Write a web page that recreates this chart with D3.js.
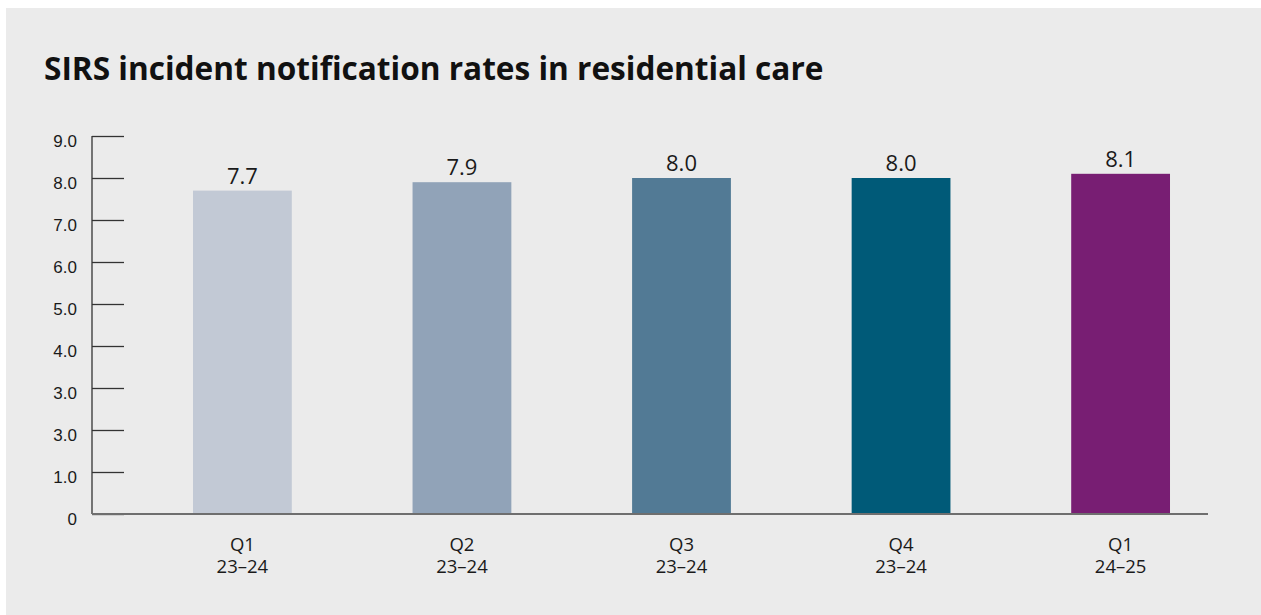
<!DOCTYPE html>
<html>
<head>
<meta charset="utf-8">
<script src="https://cdn.jsdelivr.net/npm/d3@7"></script>
<style>
  html, body { margin: 0; padding: 0; background: #fff; }
  svg { display: block; font-family: "Open Sans", "Noto Sans", sans-serif; }
</style>
</head>
<body>
<div id="chart"></div>
<script>
// chart data
const quarters = ["Q1", "Q2", "Q3", "Q4", "Q1"];
const years = ["23\u201324", "23\u201324", "23\u201324", "23\u201324", "24\u201325"];
const rates = [7.7, 7.9, 8.0, 8.0, 8.1];
const barColors = ["#c2c9d5", "#91a3b8", "#527a95", "#005a78", "#781e73"];
const tickValues = [0, 1, 2, 3, 4, 5, 6, 7, 8, 9];
// as printed in the source (the "2.0" tick reads "3.0")
const tickLabels = ["0", "1.0", "3.0", "3.0", "4.0", "5.0", "6.0", "7.0", "8.0", "9.0"];

const width = 1261, height = 615;
const margin = {top: 136, left: 92, bottom: 101, axisRight: 1208};

const svg = d3.select("#chart").append("svg")
    .attr("width", width)
    .attr("height", height);

svg.append("rect")
    .attr("x", 6)
    .attr("y", 8)
    .attr("width", width - 6)
    .attr("height", height - 8)
    .attr("fill", "#ebebeb");

svg.append("text")
    .attr("x", 44)
    .attr("y", 80)
    .attr("font-size", 31.6)
    .attr("font-weight", 700)
    .attr("fill", "#111")
    .text("SIRS incident notification rates in residential care");

const y = d3.scaleLinear()
    .domain([0, 9])
    .range([height - margin.bottom, margin.top]);

const keys = d3.range(rates.length);
const x = d3.scaleBand()
    .domain(keys)
    .range([margin.left, 1271])
    .paddingInner(0.55)
    .paddingOuter(0.46);

// y axis with inward ticks
const yAxis = svg.append("g")
    .attr("transform", `translate(${margin.left},0)`)
    .call(d3.axisRight(y)
        .tickValues(tickValues)
        .tickSize(32)
        .tickFormat((d, i) => tickLabels[i]));

yAxis.select(".domain").remove();
yAxis.selectAll(".tick line")
    .attr("stroke", "#333")
    .attr("stroke-width", 1.3);
yAxis.selectAll(".tick text")
    .attr("x", -15)
    .attr("dy", "0.9em")
    .attr("y", -5)
    .attr("text-anchor", "end")
    .attr("font-size", 17)
    .attr("fill", "#1a1a1a");

svg.append("line")
    .attr("x1", margin.left)
    .attr("x2", margin.left)
    .attr("y1", y(9))
    .attr("y2", y(0))
    .attr("stroke", "#333")
    .attr("stroke-width", 1.3);

// bars
svg.append("g")
    .selectAll("rect")
    .data(keys)
    .join("rect")
    .attr("x", d => x(d))
    .attr("y", d => y(rates[d]))
    .attr("width", x.bandwidth())
    .attr("height", d => y(0) - y(rates[d]))
    .attr("fill", d => barColors[d]);

svg.append("g")
    .selectAll("text")
    .data(keys)
    .join("text")
    .attr("x", d => x(d) + x.bandwidth() / 2)
    .attr("y", d => y(rates[d]) - 7)
    .attr("text-anchor", "middle")
    .attr("font-size", 22)
    .attr("fill", "#1a1a1a")
    .text(d => rates[d].toFixed(1));

// x axis
svg.append("line")
    .attr("x1", margin.left)
    .attr("x2", margin.axisRight)
    .attr("y1", y(0))
    .attr("y2", y(0))
    .attr("stroke", "#6e6e6e")
    .attr("stroke-width", 2);

const xLabels = svg.append("g")
    .selectAll("text")
    .data(keys)
    .join("text")
    .attr("text-anchor", "middle")
    .attr("font-size", 18.5)
    .attr("fill", "#1a1a1a")
    .attr("transform", d => `translate(${x(d) + x.bandwidth() / 2},0)`);

xLabels.append("tspan")
    .attr("x", 0)
    .attr("y", 551)
    .text(d => quarters[d]);

xLabels.append("tspan")
    .attr("x", 0)
    .attr("y", 573)
    .text(d => years[d]);
</script>
</body>
</html>
